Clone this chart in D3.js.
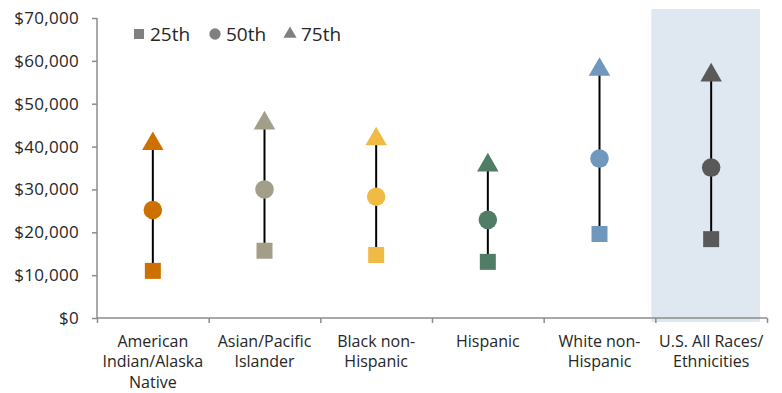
<!DOCTYPE html>
<html>
  <head>
    <script src="https://cdnjs.cloudflare.com/ajax/libs/d3/7.8.5/d3.min.js"></script>
    <style>
      html, body { margin:0; padding:0; background:#fff; }
      svg text { font-family: "Open Sans", sans-serif; fill:#262626; }
    </style>
  </head>
  <body>
    <svg id="chart" width="782" height="393"></svg>
    <script>
      // data
      var categories = [
        ["American", "Indian/Alaska", "Native"],
        ["Asian/Pacific", "Islander"],
        ["Black non-", "Hispanic"],
        ["Hispanic"],
        ["White non-", "Hispanic"],
        ["U.S. All Races/", "Ethnicities"]
      ];
      var p25 = [11000, 15700, 14700, 13100, 19600, 18400];
      var p50 = [25200, 30000, 28300, 22900, 37200, 35100];
      var p75 = [41000, 45800, 42100, 36000, 58300, 57000];
      var colors = ["#cc7000", "#a39e87", "#f0bb45", "#4f7d65", "#7098bd", "#595959"];
      var yTicks = [0, 10000, 20000, 30000, 40000, 50000, 60000, 70000];
      var legend = [["25th", d3.symbolSquare], ["50th", d3.symbolCircle], ["75th", d3.symbolTriangle]];

      var svg = d3.select("#chart");
      var plotL = 97, plotR = 767, plotT = 18, plotB = 318;

      var x = d3.scaleBand().domain(d3.range(categories.length)).range([plotL, plotR]);
      var y = d3.scaleLinear().domain([0, 70000]).range([plotB, plotT]);

      // highlight band behind the all-races column
      svg.append("rect")
        .attr("x", x(5) - 4).attr("y", 9)
        .attr("width", x.bandwidth() - 3).attr("height", 313)
        .attr("fill", "#dfe8f0");

      // y axis
      var yAxis = svg.append("g")
        .attr("transform", "translate(" + plotL + ",0)")
        .call(d3.axisLeft(y).tickValues(yTicks).tickSize(5).tickPadding(13)
          .tickFormat(function(d) { return "$" + d3.format(",")(d); }));
      yAxis.selectAll("text").style("font-size", "17px").style("letter-spacing", "0.3px").attr("fill", "#262626");

      // x axis with tick marks at band edges
      var xb = d3.scaleLinear().domain([0, categories.length]).range([plotL, plotR]);
      var xAxis = svg.append("g")
        .attr("transform", "translate(0," + plotB + ")")
        .call(d3.axisBottom(xb).ticks(6).tickSize(5).tickFormat(""));
      [yAxis, xAxis].forEach(function(g) {
        g.select(".domain").attr("stroke", "#8c8c8c").attr("stroke-width", 1.5);
        g.selectAll(".tick line").attr("stroke", "#8c8c8c").attr("stroke-width", 1.5);
      });
      yAxis.select(".domain").attr("d", "M0," + plotT + "V" + plotB);
      xAxis.select(".domain").attr("d", "M" + plotL + ",0H" + plotR);

      var cx = function(i) { return x(i) + x.bandwidth() / 2; };

      // category labels, one text per line
      categories.forEach(function(lines, i) {
        lines.forEach(function(s, k) {
          svg.append("text")
            .attr("x", cx(i))
            .attr("y", 346.5 + k * 20.5)
            .attr("text-anchor", "middle")
            .style("font-size", "16px")
            .text(s);
        });
      });

      // range lines
      svg.selectAll(".range").data(categories).enter().append("line")
        .attr("x1", function(d, i) { return cx(i); })
        .attr("x2", function(d, i) { return cx(i); })
        .attr("y1", function(d, i) { return y(p25[i]); })
        .attr("y2", function(d, i) { return y(p75[i]); })
        .attr("stroke", "#000").attr("stroke-width", 2);

      var sq = d3.symbol().type(d3.symbolSquare).size(256);
      var ci = d3.symbol().type(d3.symbolCircle).size(270);
      var tr = d3.symbol().type(d3.symbolTriangle).size(200);

      function marks(vals, gen, dy) {
        svg.append("g").selectAll("path").data(vals).enter().append("path")
          .attr("d", gen)
          .attr("transform", function(d, i) { return "translate(" + cx(i) + "," + (y(d) + dy) + ")"; })
          .attr("fill", function(d, i) { return colors[i]; });
      }
      marks(p25, sq, 0);
      marks(p50, ci, 0);
      marks(p75, tr, 1.5);

      // legend
      var lx = [139, 215, 290];
      var lg = svg.append("g");
      legend.forEach(function(l, i) {
        lg.append("path")
          .attr("d", d3.symbol().type(l[1]).size(i === 2 ? 75 : 100)())
          .attr("transform", "translate(" + lx[i] + ",34)")
          .attr("fill", "#808080");
        lg.append("text").attr("x", lx[i] + 11).attr("y", 41)
          .style("font-size", "19px").text(l[0]);
      });
    </script>
  </body>
</html>
